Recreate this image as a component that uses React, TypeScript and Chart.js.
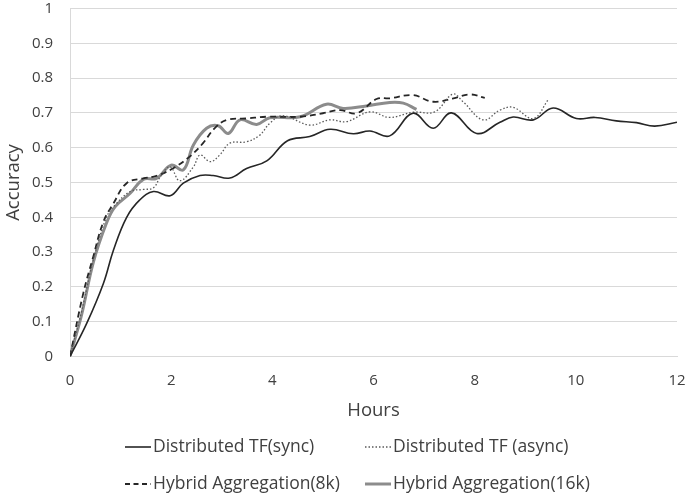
import React, { useEffect, useRef } from "react";
import { Chart, registerables } from "chart.js";

Chart.register(...registerables);

// ---- data ----
const syncHours = [0, 0.33, 0.66, 0.86, 1.12, 1.38, 1.65, 1.98, 2.24, 2.57, 2.83, 3.16, 3.49, 3.89, 4.3, 4.74, 5.14, 5.6, 5.93, 6.32, 6.78, 7.18, 7.54, 8.04, 8.5, 8.76, 9.16, 9.55, 10.01, 10.38, 10.8, 11.2, 11.56, 12];
const syncAcc = [0, 0.095, 0.21, 0.306, 0.4, 0.45, 0.474, 0.462, 0.498, 0.52, 0.52, 0.513, 0.54, 0.562, 0.62, 0.632, 0.653, 0.64, 0.648, 0.634, 0.699, 0.656, 0.7, 0.641, 0.673, 0.688, 0.68, 0.714, 0.684, 0.687, 0.677, 0.672, 0.662, 0.673];

const asyncHours = [0, 0.23, 0.46, 0.72, 0.89, 1.19, 1.45, 1.65, 1.8, 1.98, 2.17, 2.44, 2.57, 2.77, 2.96, 3.16, 3.49, 3.75, 3.95, 4.2, 4.74, 5.14, 5.47, 5.93, 6.32, 6.78, 7.21, 7.57, 7.77, 8.17, 8.5, 8.76, 9.16, 9.45];
const asyncAcc = [0, 0.13, 0.277, 0.4, 0.435, 0.474, 0.48, 0.485, 0.52, 0.545, 0.505, 0.545, 0.579, 0.56, 0.579, 0.613, 0.617, 0.636, 0.67, 0.692, 0.665, 0.68, 0.675, 0.703, 0.687, 0.702, 0.703, 0.754, 0.732, 0.68, 0.708, 0.716, 0.684, 0.737];

const hybrid8kHours = [0, 0.26, 0.46, 0.66, 0.86, 1.12, 1.45, 1.71, 2.04, 2.37, 2.63, 2.86, 3.1, 3.49, 3.89, 4.55, 5.0, 5.34, 5.67, 6.06, 6.32, 6.78, 7.18, 7.58, 7.91, 8.2];
const hybrid8kAcc = [0, 0.18, 0.287, 0.387, 0.44, 0.498, 0.512, 0.519, 0.541, 0.575, 0.613, 0.656, 0.68, 0.684, 0.689, 0.689, 0.699, 0.708, 0.699, 0.74, 0.742, 0.751, 0.732, 0.742, 0.753, 0.743];

const hybrid16kHours = [0, 0.23, 0.46, 0.72, 0.89, 1.19, 1.45, 1.71, 2.0, 2.24, 2.44, 2.7, 2.93, 3.13, 3.36, 3.69, 3.95, 4.55, 5.07, 5.4, 5.86, 6.32, 6.59, 6.85];
const hybrid16kAcc = [0, 0.12, 0.27, 0.383, 0.43, 0.469, 0.509, 0.512, 0.55, 0.536, 0.608, 0.656, 0.663, 0.641, 0.68, 0.667, 0.686, 0.689, 0.725, 0.713, 0.72, 0.73, 0.728, 0.71];

const seriesNames = [
  "Distributed TF(sync)",
  "Distributed TF (async)",
  "Hybrid Aggregation(8k)",
  "Hybrid Aggregation(16k)",
];

const xMin = 0;
const xMax = 12;
const xStep = 2;
const yMin = 0;
const yMax = 1;
const yStep = 0.1;

const FONT = "'Open Sans', 'Noto Sans', sans-serif";
const TEXT = "#404040";

const zip = (xs: number[], ys: number[]) => xs.map((x, i) => ({ x, y: ys[i] }));

const gridLegend = {
  id: "gridLegend",
  afterDraw(chart: any) {
    const ctx = chart.ctx as CanvasRenderingContext2D;
    const cols = [125, 365];
    const rows = [447, 484];
    chart.data.datasets.forEach((ds: any, i: number) => {
      const x = cols[i % 2];
      const y = rows[Math.floor(i / 2)];
      ctx.save();
      ctx.strokeStyle = ds.borderColor;
      ctx.lineWidth = ds.borderWidth;
      ctx.setLineDash(ds.legendDash || ds.borderDash || []);
      ctx.beginPath();
      ctx.moveTo(x, y);
      ctx.lineTo(x + 26, y);
      ctx.stroke();
      ctx.setLineDash([]);
      ctx.fillStyle = TEXT;
      ctx.font = `17.5px ${FONT}`;
      ctx.textBaseline = "middle";
      ctx.textAlign = "left";
      ctx.fillText(ds.label, x + 28, y);
      ctx.restore();
    });
  },
};

export default function App() {
  const ref = useRef<HTMLCanvasElement | null>(null);

  useEffect(() => {
    document.body.style.margin = "0";
    const canvas = ref.current;
    if (!canvas) return;
    const chart = new Chart(canvas, {
      type: "line",
      data: {
        datasets: [
          {
            label: seriesNames[0],
            data: zip(syncHours, syncAcc),
            borderColor: "#262626",
            borderWidth: 1.6,
            pointRadius: 0,
            tension: 0.4,
            fill: false,
          },
          {
            label: seriesNames[1],
            data: zip(asyncHours, asyncAcc),
            borderColor: "#5a5a5a",
            borderWidth: 1.3,
            borderDash: [1.5, 2],
            pointRadius: 0,
            tension: 0.4,
            fill: false,
          },
          {
            label: seriesNames[2],
            data: zip(hybrid8kHours, hybrid8kAcc),
            borderColor: "#262626",
            borderWidth: 1.8,
            borderDash: [6, 4],
            legendDash: [5, 3.5],
            pointRadius: 0,
            tension: 0.4,
            fill: false,
          } as any,
          {
            label: seriesNames[3],
            data: zip(hybrid16kHours, hybrid16kAcc),
            borderColor: "#8c8c8c",
            borderWidth: 3,
            pointRadius: 0,
            tension: 0.4,
            fill: false,
          },
        ],
      },
      options: {
        responsive: false,
        animation: false,
        layout: { padding: { top: 8.5, right: 8, left: 0, bottom: 0 } },
        plugins: {
          legend: { display: false },
          tooltip: { enabled: false },
        },
        scales: {
          x: {
            type: "linear",
            min: xMin,
            max: xMax,
            ticks: {
              stepSize: xStep,
              color: TEXT,
              font: { family: FONT, size: 15 },
              padding: 15,
            },
            grid: { display: false, drawTicks: false },
            border: { display: true, color: "#d9d9d9" },
            title: {
              display: true,
              text: "Hours",
              color: TEXT,
              font: { family: FONT, size: 18.5 },
              padding: { top: 0, bottom: 74 },
            },
            afterFit: (s: any) => {
              s.height = 139.5;
              s.paddingLeft = 0;
              s.paddingRight = 0;
            },
          },
          y: {
            type: "linear",
            min: yMin,
            max: yMax,
            ticks: {
              stepSize: yStep,
              color: TEXT,
              font: { family: FONT, size: 15 },
              padding: 17,
              callback: (v: any) => String(Number(Number(v).toFixed(1))),
            },
            grid: { color: "#d9d9d9", drawTicks: false },
            border: { display: true, color: "#d9d9d9" },
            title: {
              display: true,
              text: "Accuracy",
              color: TEXT,
              font: { family: FONT, size: 18.5 },
              padding: { top: 3, bottom: 0 },
            },
            afterFit: (s: any) => {
              s.width = 70;
              s.paddingTop = 0;
              s.paddingBottom = 0;
            },
          },
        },
      },
      plugins: [gridLegend],
    });
    return () => chart.destroy();
  }, []);

  return (
    <div style={{ width: 685, height: 496 }}>
      <canvas ref={ref} width={685} height={496} style={{ display: "block" }} />
    </div>
  );
}
